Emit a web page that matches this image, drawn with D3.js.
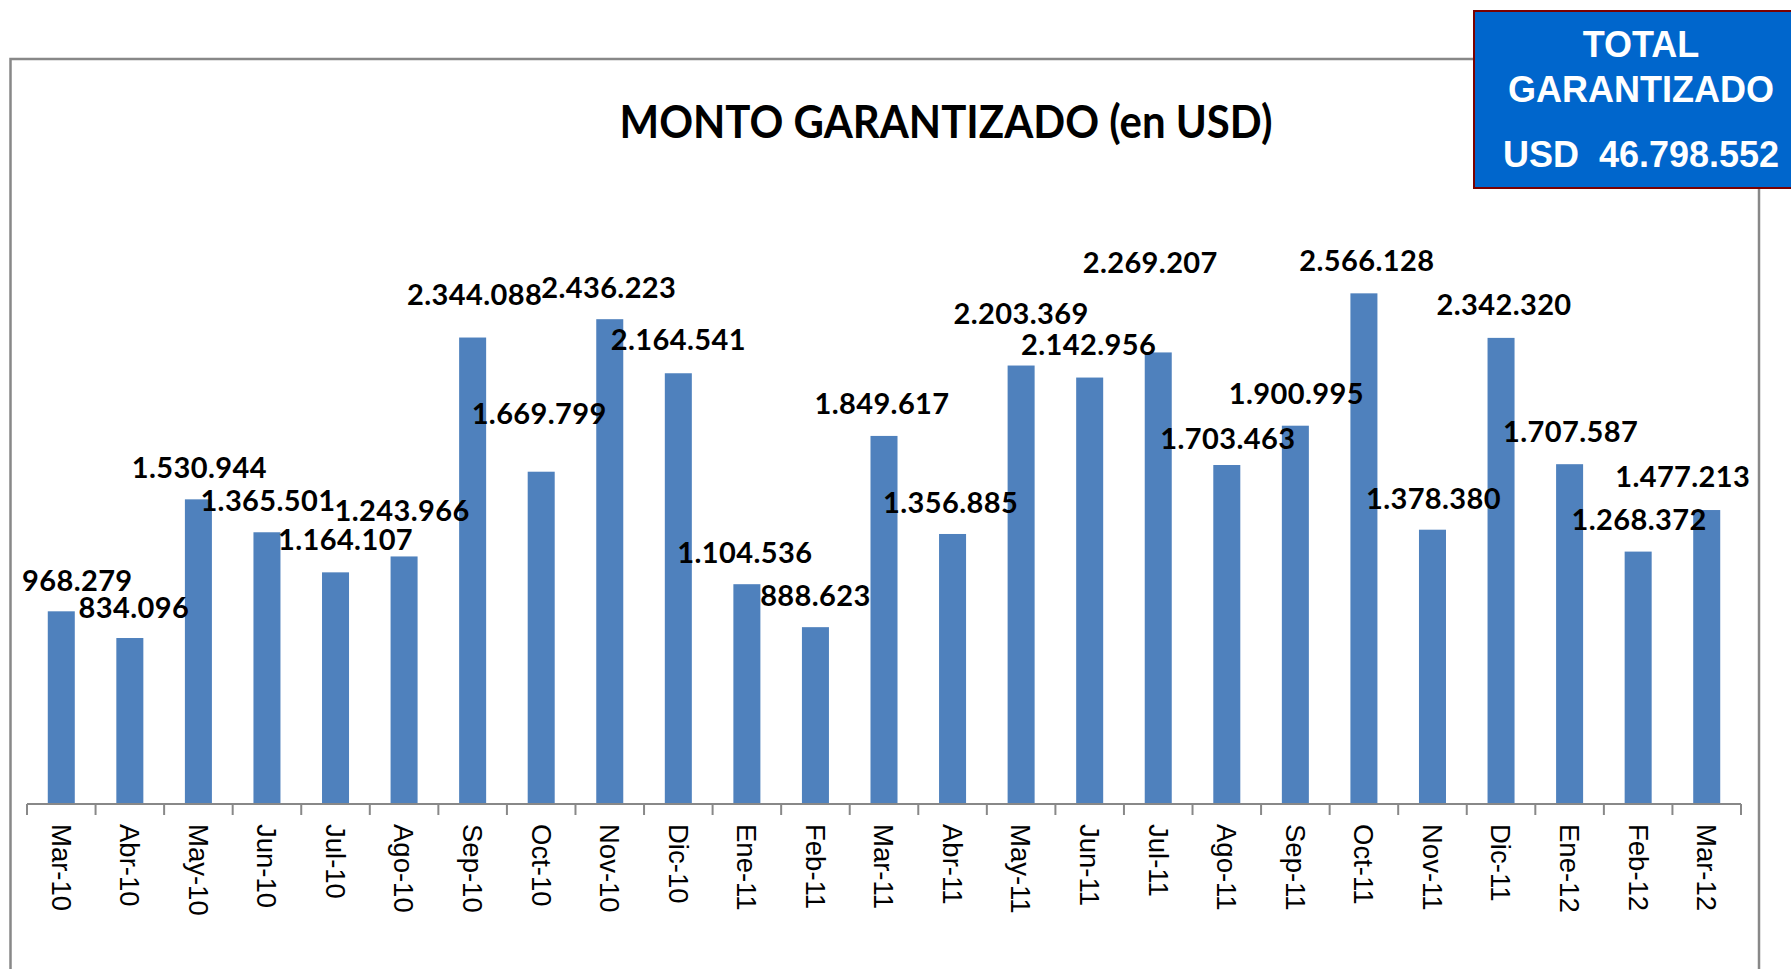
<!DOCTYPE html>
<html>
  <head>
    <meta charset="utf-8" />
    <script src="https://d3js.org/d3.v7.min.js"></script>
    <style>
      body {
        margin: 0;
        background: #fff;
      }
      .frame {
        fill: none;
        stroke: #888;
      }
      .bar {
        fill: #4f81bd;
      }
      .value {
        font-family: Lato, sans-serif;
        font-weight: 700;
        font-size: 29px;
        letter-spacing: 0.4px;
        fill: #000;
      }
      .month {
        font-family: "Liberation Sans", Arial, sans-serif;
        font-size: 27.5px;
        fill: #000;
      }
      .axis-line {
        stroke: #888;
        stroke-width: 2;
      }
      .total text {
        font-family: "Liberation Sans", Arial, sans-serif;
        font-weight: 700;
        font-size: 36px;
        fill: #fff;
        white-space: pre;
      }
    </style>
  </head>
  <body>
    <svg id="chart" width="1791" height="969"></svg>

    <script>
      // Monthly amounts (USD)
      const months = [
        "Mar-10", "Abr-10", "May-10", "Jun-10", "Jul-10", "Ago-10", "Sep-10",
        "Oct-10", "Nov-10", "Dic-10", "Ene-11", "Feb-11", "Mar-11", "Abr-11",
        "May-11", "Jun-11", "Jul-11", "Ago-11", "Sep-11", "Oct-11", "Nov-11",
        "Dic-11", "Ene-12", "Feb-12", "Mar-12",
      ];
      const values = [
        968279, 834096, 1530944, 1365501, 1164107, 1243966, 2344088, 1669799,
        2436223, 2164541, 1104536, 888623, 1849617, 1356885, 2203369, 2142956,
        2269207, 1703463, 1900995, 2566128, 1378380, 2342320, 1707587, 1268372,
        1477213,
      ];
      const totalLabel = "46.798.552";

      // data labels were dragged around by hand in the original
      const labelDx = [16, 4, 1, 1, 10, -2, 2, -2, -1, 0, -2, 0, -2, -2, 0, -1, -8, 1, 1, 3, 1, 3, 1, 1, -24];
      const labelDy = [-20, -20, -21, -21, -22, -35, -33, -48, -21, -23, -21, -21, -22, -21, -42, -23, -79, -16, -22, -22, -21, -23, -22, -22, -23];

      const svg = d3.select("#chart");
      const fmt = d3.formatLocale({ decimal: ",", thousands: ".", grouping: [3], currency: ["", ""] }).format(",d");

      // chart border (runs off the bottom of the picture)
      svg
        .append("rect")
        .attr("class", "frame")
        .attr("x", 10.5)
        .attr("y", 59)
        .attr("width", 1748.5)
        .attr("height", 1000)
        .attr("stroke-width", 2.5);

      svg
        .append("text")
        .attr("x", 946)
        .attr("y", 138)
        .attr("text-anchor", "middle")
        .attr("textLength", 653)
        .attr("lengthAdjust", "spacingAndGlyphs")
        .style("font-family", "Lato, sans-serif")
        .style("font-weight", 700)
        .style("font-size", "45px")
        .text("MONTO GARANTIZADO (en USD)");

      const axisY = 804;
      const x = d3
        .scaleBand()
        .domain(months)
        .range([27, 1741])
        .paddingInner(0.606)
        .paddingOuter(0.303);
      const y = d3.scaleLinear().domain([0, 3000000]).range([axisY, 207]);

      const data = months.map((m, i) => ({ month: m, value: values[i], i: i }));

      svg
        .selectAll("rect.bar")
        .data(data)
        .join("rect")
        .attr("class", "bar")
        .attr("x", (d) => x(d.month))
        .attr("width", x.bandwidth())
        .attr("y", (d) => y(d.value))
        .attr("height", (d) => y(0) - y(d.value));

      // axis line + ticks between the categories
      const gap = (x.step() - x.bandwidth()) / 2;
      const bounds = months.map((m) => x(m) - gap).concat([x(months[months.length - 1]) + x.bandwidth() + gap]);
      svg
        .append("line")
        .attr("class", "axis-line")
        .attr("x1", bounds[0])
        .attr("x2", bounds[bounds.length - 1])
        .attr("y1", axisY)
        .attr("y2", axisY);
      svg
        .selectAll("line.tick")
        .data(bounds)
        .join("line")
        .attr("class", "axis-line tick")
        .attr("x1", (d) => d)
        .attr("x2", (d) => d)
        .attr("y1", axisY)
        .attr("y2", axisY + 11);

      svg
        .selectAll("text.month")
        .data(data)
        .join("text")
        .attr("class", "month")
        .attr("transform", (d) => `translate(${x(d.month) + x.bandwidth() / 2},824) rotate(90)`)
        .attr("dy", "0.35em")
        .text((d) => d.month);

      svg
        .selectAll("text.value")
        .data(data)
        .join("text")
        .attr("class", "value")
        .attr("text-anchor", "middle")
        .attr("x", (d) => x(d.month) + x.bandwidth() / 2 + labelDx[d.i])
        .attr("y", (d) => y(d.value) + labelDy[d.i])
        .text((d) => fmt(d.value));

      // total box, top right
      const total = svg.append("g").attr("class", "total");
      total
        .append("rect")
        .attr("x", 1474)
        .attr("y", 11)
        .attr("width", 340)
        .attr("height", 177)
        .attr("fill", "#0066cc")
        .attr("stroke", "#7a0000")
        .attr("stroke-width", 2);
      total.append("text").attr("x", 1641).attr("y", 57).attr("text-anchor", "middle").text("TOTAL");
      total.append("text").attr("x", 1641).attr("y", 102).attr("text-anchor", "middle").text("GARANTIZADO");
      total
        .append("text")
        .attr("x", 1641)
        .attr("y", 167)
        .attr("text-anchor", "middle")
        .text("USD  " + totalLabel);
    </script>
  </body>
</html>
